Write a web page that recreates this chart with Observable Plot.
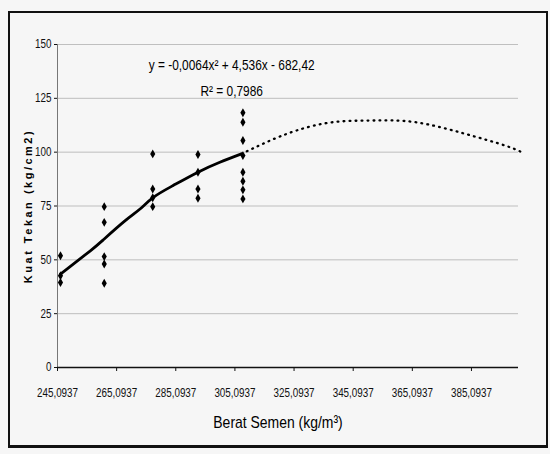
<!DOCTYPE html>
<html><head><meta charset="utf-8">
<script src="https://cdn.jsdelivr.net/npm/d3@7"></script>
<script src="https://cdn.jsdelivr.net/npm/@observablehq/plot@0.6"></script>
<style>
html,body{margin:0;padding:0;background:#f6f6f6;}
#wrap{position:relative;width:550px;height:454px;overflow:hidden;}
#box{position:absolute;left:8px;top:11px;width:536px;height:432px;border:2px solid #111;border-bottom-width:3px;}
#chart{position:absolute;left:0;top:0;}
</style></head><body>
<div id="wrap"><div id="box"></div><div id="chart"></div></div>
<script>
const FONT = '"Liberation Sans", Arial, sans-serif';
const NARROW_RATIO = 0.82;
const beratSemen = [246.1, 260.9, 277.3, 292.6, 307.8];
const kuatTekan = [
  [51.9, 42.6, 39.5],
  [74.7, 67.4, 51.5, 48.1, 39.1],
  [99.2, 82.9, 78.8, 74.7],
  [98.9, 90.7, 82.9, 78.6],
  [118.3, 113.9, 105.4, 98.4, 90.7, 86.5, 82.5, 78.3]
];
const trendSolidX = [246.1, 256.2, 260.9, 268.0, 273.0, 277.5, 284.2, 292.6, 300.0, 307.3];
const trendSolidY = [43.4, 54.2, 59.7, 68.2, 73.6, 79.0, 84.5, 90.7, 95.3, 99.2];
const trendDotX = [307.3, 315.7, 325.8, 338.1, 351.6, 366.2, 383.0, 396.4, 402.0];
const trendDotY = [99.2, 104.6, 110.0, 113.9, 114.7, 113.9, 108.5, 103.1, 100.0];
const xTicks = [245.0937, 265.0937, 285.0937, 305.0937, 325.0937, 345.0937, 365.0937, 385.0937];
const yTicks = [0, 25, 50, 75, 100, 125, 150];
const equation = "y = -0,0064x² + 4,536x - 682,42";
const rSquared = "R² = 0,7986";
const annotX = 304, eqY = 140.3, r2Y = 128.2;
const xLabel = "Berat Semen (kg/m³)";
const yLabel = "Kuat Tekan (kg/cm2)";

const pts = beratSemen.flatMap((x, i) => kuatTekan[i].map(y => ({x, y})));
const solid = trendSolidX.map((x, i) => ({x, y: trendSolidY[i]}));
const dotted = trendDotX.map((x, i) => ({x, y: trendDotY[i]}));

const chart = Plot.plot({
  width: 550, height: 454,
  marginLeft: 57, marginRight: 32, marginTop: 44, marginBottom: 87,
  style: {background: "transparent", fontFamily: FONT, fontSize: "12px", color: "#111"},
  x: {domain: [245.0937, 401]},
  y: {domain: [0, 150]},
  marks: [
    Plot.gridY(yTicks, {stroke: "#888", strokeOpacity: 0.5}),
    Plot.ruleX([xTicks[0]], {stroke: "#777", strokeWidth: 1}),
    Plot.axisY(yTicks, {tickSize: 3, tickPadding: 3, tickFormat: d => String(d), label: null, fontSize: 12}),
    Plot.axisX(xTicks, {tickSize: 4, tickPadding: 17, tickFormat: d => d.toFixed(4).replace(".", ","), label: null, fontSize: 12}),
    Plot.ruleY([0], {stroke: "#111", strokeWidth: 1.5}),
    Plot.line(solid, {x: "x", y: "y", stroke: "#000", strokeWidth: 2.8, curve: "natural"}),
    Plot.line(dotted, {x: "x", y: "y", stroke: "#000", strokeWidth: 2.3, strokeDasharray: "0.8,5.2", strokeLinecap: "round", curve: "natural"}),
    Plot.dot(pts, {x: "x", y: "y", symbol: "diamond", r: 2.7, fill: "#000"}),
    Plot.text([equation], {x: () => annotX, y: () => eqY, text: d => d, fontSize: 14.5, fill: "#000"}),
    Plot.text([rSquared], {x: () => annotX, y: () => r2Y, text: d => d, fontSize: 14.5, fill: "#000"}),
    Plot.text([xLabel], {frameAnchor: "bottom", lineAnchor: "middle", dx: -10, dy: 55, text: d => d, fontSize: 17, fill: "#000"}),
    Plot.text([yLabel], {frameAnchor: "left", rotate: -90, dx: -29, text: d => d, textAnchor: "middle",
      fontSize: 11, fontWeight: "bold", fill: "#000"})
  ]
});
document.getElementById("chart").appendChild(chart);
d3.select(chart).selectAll("text").each(function() {
  if (this.textContent === yLabel) {
    this.style.letterSpacing = "2.5px";
  } else {
    const w = this.getComputedTextLength();
    if (w > 0) {
      this.setAttribute("textLength", (w * NARROW_RATIO).toFixed(2));
      this.setAttribute("lengthAdjust", "spacingAndGlyphs");
    }
  }
});
</script>
</body></html>
